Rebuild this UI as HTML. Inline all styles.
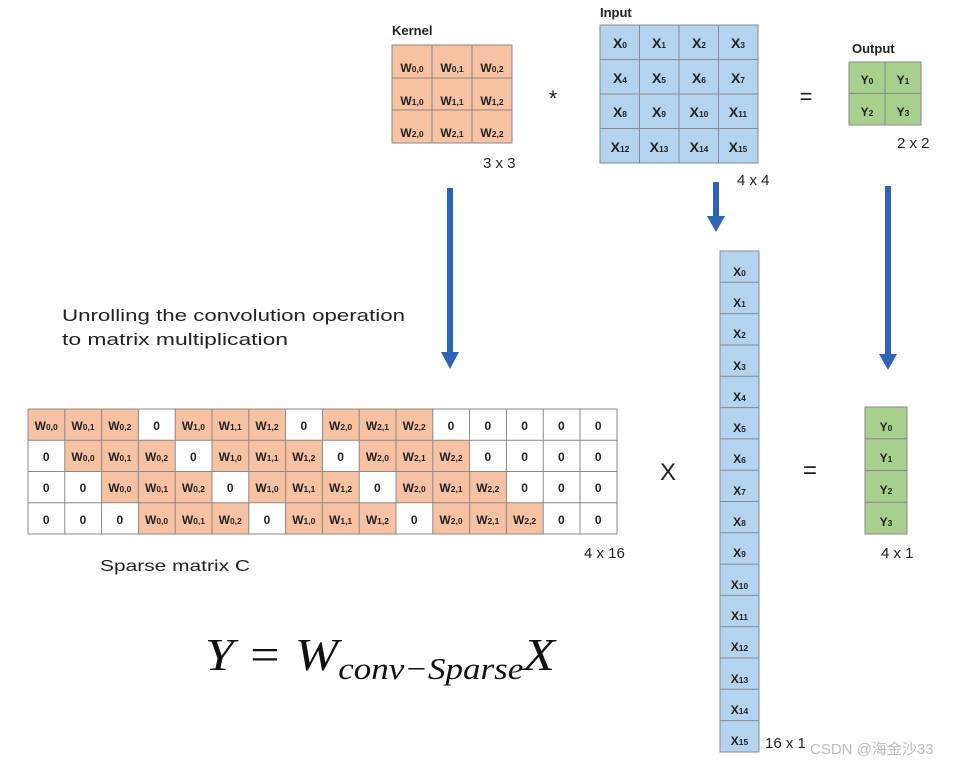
<!DOCTYPE html>
<html><head><meta charset="utf-8"><style>
html,body{margin:0;padding:0;background:#fff;}
svg{display:block;}
.b{font-family:"Liberation Sans",sans-serif;font-weight:bold;fill:#222;text-anchor:middle;}
.w{font-size:12px;}
.s{font-size:8.5px;}
.n{font-family:"Liberation Sans",sans-serif;fill:#222;font-size:15px;}
</style></head><body>
<svg width="963" height="765" viewBox="0 0 963 765" xmlns="http://www.w3.org/2000/svg">
<!-- Kernel -->
<text x="392" y="35" class="b" style="font-size:13px;text-anchor:start">Kernel</text>
<rect x="392" y="45" width="120" height="98" fill="#f7c2a2" stroke="#888" stroke-width="1"/>
<path d="M432 45V143M472 45V143M392 78H512M392 110H512" stroke="#888" stroke-width="1"/>
<g class="b w">
<text x="412" y="72">W<tspan class="s">0,0</tspan></text><text x="452" y="72">W<tspan class="s">0,1</tspan></text><text x="492" y="72">W<tspan class="s">0,2</tspan></text>
<text x="412" y="105">W<tspan class="s">1,0</tspan></text><text x="452" y="105">W<tspan class="s">1,1</tspan></text><text x="492" y="105">W<tspan class="s">1,2</tspan></text>
<text x="412" y="137">W<tspan class="s">2,0</tspan></text><text x="452" y="137">W<tspan class="s">2,1</tspan></text><text x="492" y="137">W<tspan class="s">2,2</tspan></text>
</g>
<text x="483" y="168" class="n">3 x 3</text>
<text x="553" y="106" class="n" style="font-size:22px;text-anchor:middle">*</text>

<!-- Input -->
<text x="600" y="17" class="b" style="font-size:13px;text-anchor:start">Input</text>
<rect x="600" y="25" width="158" height="138" fill="#b4d3ee" stroke="#888"/>
<path d="M639.5 25V163M679 25V163M718.5 25V163M600 59.5H758M600 94H758M600 128.5H758" stroke="#888"/>
<g class="b" style="font-size:14px">
<text x="620" y="48">X<tspan class="s">0</tspan></text><text x="659" y="48">X<tspan class="s">1</tspan></text><text x="699" y="48">X<tspan class="s">2</tspan></text><text x="738" y="48">X<tspan class="s">3</tspan></text>
<text x="620" y="83">X<tspan class="s">4</tspan></text><text x="659" y="83">X<tspan class="s">5</tspan></text><text x="699" y="83">X<tspan class="s">6</tspan></text><text x="738" y="83">X<tspan class="s">7</tspan></text>
<text x="620" y="117">X<tspan class="s">8</tspan></text><text x="659" y="117">X<tspan class="s">9</tspan></text><text x="699" y="117">X<tspan class="s">10</tspan></text><text x="738" y="117">X<tspan class="s">11</tspan></text>
<text x="620" y="152">X<tspan class="s">12</tspan></text><text x="659" y="152">X<tspan class="s">13</tspan></text><text x="699" y="152">X<tspan class="s">14</tspan></text><text x="738" y="152">X<tspan class="s">15</tspan></text>
</g>
<text x="737" y="185" class="n">4 x 4</text>
<text x="806" y="104" class="n" style="font-size:22px;text-anchor:middle">=</text>

<!-- Output -->
<text x="852" y="53" class="b" style="font-size:13px;text-anchor:start">Output</text>
<rect x="849" y="62" width="72" height="63" fill="#a8d08d" stroke="#888"/>
<path d="M885 62V125M849 93.5H921" stroke="#888"/>
<g class="b" style="font-size:12px">
<text x="867" y="84">Y<tspan class="s">0</tspan></text><text x="903" y="84">Y<tspan class="s">1</tspan></text>
<text x="867" y="116">Y<tspan class="s">2</tspan></text><text x="903" y="116">Y<tspan class="s">3</tspan></text>
</g>
<text x="897" y="148" class="n">2 x 2</text>

<!-- Arrows -->
<g fill="#2e64b8">
<rect x="447" y="188" width="6" height="165"/><path d="M441 352H459L450 369Z"/>
<rect x="713" y="182" width="6" height="36"/><path d="M707 216H725L716 232Z"/>
<rect x="885" y="186" width="6" height="170"/><path d="M879 354H897L888 370Z"/>
</g>

<text x="62" y="321" class="n" style="font-size:17px" textLength="343" lengthAdjust="spacingAndGlyphs">Unrolling the convolution operation</text>
<text x="62" y="345" class="n" style="font-size:17px" textLength="226" lengthAdjust="spacingAndGlyphs">to matrix multiplication</text>

<!-- Sparse matrix -->
<g fill="#f7c2a2">
<rect x="28" y="409" width="110.4" height="31.25"/><rect x="175.2" y="409" width="110.4" height="31.25"/><rect x="322.4" y="409" width="110.4" height="31.25"/>
<rect x="64.8" y="440.25" width="110.4" height="31.25"/><rect x="212" y="440.25" width="110.4" height="31.25"/><rect x="359.2" y="440.25" width="110.4" height="31.25"/>
<rect x="101.6" y="471.5" width="110.4" height="31.25"/><rect x="248.8" y="471.5" width="110.4" height="31.25"/><rect x="396" y="471.5" width="110.4" height="31.25"/>
<rect x="138.4" y="502.75" width="110.4" height="31.25"/><rect x="285.6" y="502.75" width="110.4" height="31.25"/><rect x="432.8" y="502.75" width="110.4" height="31.25"/>
</g>
<g stroke="#888" stroke-width="1">
<path d="M28 409H617M28 440.25H617M28 471.5H617M28 502.75H617M28 534H617"/>
<path d="M28 409V534M64.8 409V534M101.6 409V534M138.4 409V534M175.2 409V534M212 409V534M248.8 409V534M285.6 409V534M322.4 409V534M359.2 409V534M396 409V534M432.8 409V534M469.6 409V534M506.4 409V534M543.2 409V534M580 409V534M617 409V534"/>
</g>
<g class="b w">
<text x="46.2" y="430">W<tspan class="s">0,0</tspan></text><text x="83" y="430">W<tspan class="s">0,1</tspan></text><text x="119.8" y="430">W<tspan class="s">0,2</tspan></text><text x="156.6" y="430">0</text><text x="193.4" y="430">W<tspan class="s">1,0</tspan></text><text x="230.2" y="430">W<tspan class="s">1,1</tspan></text><text x="267" y="430">W<tspan class="s">1,2</tspan></text><text x="303.8" y="430">0</text><text x="340.6" y="430">W<tspan class="s">2,0</tspan></text><text x="377.4" y="430">W<tspan class="s">2,1</tspan></text><text x="414.2" y="430">W<tspan class="s">2,2</tspan></text><text x="451" y="430">0</text><text x="487.8" y="430">0</text><text x="524.6" y="430">0</text><text x="561.4" y="430">0</text><text x="598.2" y="430">0</text>
<text x="46.2" y="461">0</text><text x="83" y="461">W<tspan class="s">0,0</tspan></text><text x="119.8" y="461">W<tspan class="s">0,1</tspan></text><text x="156.6" y="461">W<tspan class="s">0,2</tspan></text><text x="193.4" y="461">0</text><text x="230.2" y="461">W<tspan class="s">1,0</tspan></text><text x="267" y="461">W<tspan class="s">1,1</tspan></text><text x="303.8" y="461">W<tspan class="s">1,2</tspan></text><text x="340.6" y="461">0</text><text x="377.4" y="461">W<tspan class="s">2,0</tspan></text><text x="414.2" y="461">W<tspan class="s">2,1</tspan></text><text x="451" y="461">W<tspan class="s">2,2</tspan></text><text x="487.8" y="461">0</text><text x="524.6" y="461">0</text><text x="561.4" y="461">0</text><text x="598.2" y="461">0</text>
<text x="46.2" y="492">0</text><text x="83" y="492">0</text><text x="119.8" y="492">W<tspan class="s">0,0</tspan></text><text x="156.6" y="492">W<tspan class="s">0,1</tspan></text><text x="193.4" y="492">W<tspan class="s">0,2</tspan></text><text x="230.2" y="492">0</text><text x="267" y="492">W<tspan class="s">1,0</tspan></text><text x="303.8" y="492">W<tspan class="s">1,1</tspan></text><text x="340.6" y="492">W<tspan class="s">1,2</tspan></text><text x="377.4" y="492">0</text><text x="414.2" y="492">W<tspan class="s">2,0</tspan></text><text x="451" y="492">W<tspan class="s">2,1</tspan></text><text x="487.8" y="492">W<tspan class="s">2,2</tspan></text><text x="524.6" y="492">0</text><text x="561.4" y="492">0</text><text x="598.2" y="492">0</text>
<text x="46.2" y="524">0</text><text x="83" y="524">0</text><text x="119.8" y="524">0</text><text x="156.6" y="524">W<tspan class="s">0,0</tspan></text><text x="193.4" y="524">W<tspan class="s">0,1</tspan></text><text x="230.2" y="524">W<tspan class="s">0,2</tspan></text><text x="267" y="524">0</text><text x="303.8" y="524">W<tspan class="s">1,0</tspan></text><text x="340.6" y="524">W<tspan class="s">1,1</tspan></text><text x="377.4" y="524">W<tspan class="s">1,2</tspan></text><text x="414.2" y="524">0</text><text x="451" y="524">W<tspan class="s">2,0</tspan></text><text x="487.8" y="524">W<tspan class="s">2,1</tspan></text><text x="524.6" y="524">W<tspan class="s">2,2</tspan></text><text x="561.4" y="524">0</text><text x="598.2" y="524">0</text>
</g>
<text x="584" y="558" class="n">4 x 16</text>
<text x="100" y="571" class="n" style="font-size:16px" textLength="150" lengthAdjust="spacingAndGlyphs">Sparse matrix C</text>

<text x="668" y="480" class="n" style="font-size:24px;text-anchor:middle">X</text>
<text x="810" y="478" class="n" style="font-size:24px;text-anchor:middle">=</text>

<!-- Column X -->
<rect x="720" y="251" width="39" height="501" fill="#b4d3ee" stroke="#888"/>
<path d="M720 282.3H759M720 313.6H759M720 345H759M720 376.3H759M720 407.6H759M720 438.9H759M720 470.2H759M720 501.5H759M720 532.8H759M720 564.1H759M720 595.4H759M720 626.7H759M720 658H759M720 689.3H759M720 720.6H759" stroke="#888"/>
<g class="b" style="font-size:12px">
<text x="739.5" y="276">X<tspan class="s">0</tspan></text><text x="739.5" y="307">X<tspan class="s">1</tspan></text><text x="739.5" y="338">X<tspan class="s">2</tspan></text><text x="739.5" y="370">X<tspan class="s">3</tspan></text>
<text x="739.5" y="401">X<tspan class="s">4</tspan></text><text x="739.5" y="432">X<tspan class="s">5</tspan></text><text x="739.5" y="463">X<tspan class="s">6</tspan></text><text x="739.5" y="495">X<tspan class="s">7</tspan></text>
<text x="739.5" y="526">X<tspan class="s">8</tspan></text><text x="739.5" y="557">X<tspan class="s">9</tspan></text><text x="739.5" y="589">X<tspan class="s">10</tspan></text><text x="739.5" y="620">X<tspan class="s">11</tspan></text>
<text x="739.5" y="651">X<tspan class="s">12</tspan></text><text x="739.5" y="683">X<tspan class="s">13</tspan></text><text x="739.5" y="714">X<tspan class="s">14</tspan></text><text x="739.5" y="745">X<tspan class="s">15</tspan></text>
</g>
<text x="765" y="748" class="n">16 x 1</text>

<!-- Y column -->
<rect x="865" y="407" width="42" height="127" fill="#a8d08d" stroke="#888"/>
<path d="M865 438.8H907M865 470.5H907M865 502.2H907" stroke="#888"/>
<g class="b" style="font-size:12px">
<text x="886" y="431">Y<tspan class="s">0</tspan></text><text x="886" y="462">Y<tspan class="s">1</tspan></text><text x="886" y="494">Y<tspan class="s">2</tspan></text><text x="886" y="526">Y<tspan class="s">3</tspan></text>
</g>
<text x="881" y="558" class="n">4 x 1</text>

<!-- Equation -->
<text x="205" y="670" textLength="350" lengthAdjust="spacingAndGlyphs" style="font-family:'Liberation Serif',serif;font-style:italic;font-size:46px;fill:#111">Y = W<tspan font-size="31" dy="9">conv−Sparse</tspan><tspan dy="-9">X</tspan></text>

<text x="810" y="754" style="font-family:'Liberation Sans','Noto Sans CJK SC',sans-serif;font-size:15px;fill:#bbb">CSDN @海金沙33</text>
</svg>
</body></html>
